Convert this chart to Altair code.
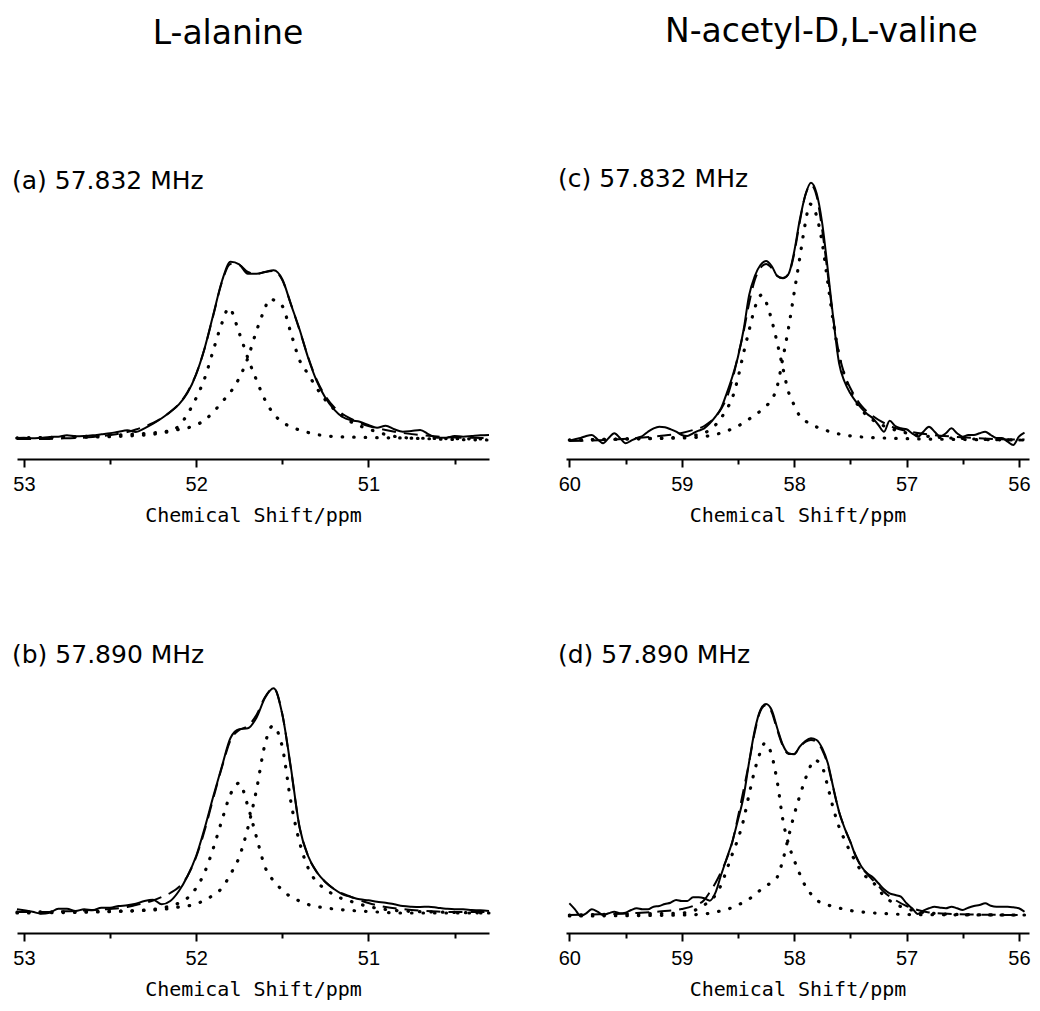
import altair as alt
import pandas as pd

# ---------------- Panel (a): L-alanine, 57.832 MHz ----------------
A_EXP_PPM = [53.04, 53.00, 52.95, 52.90, 52.85, 52.80, 52.75, 52.70, 52.65, 52.60, 52.55,
             52.50, 52.45, 52.40, 52.35, 52.30, 52.25, 52.20, 52.15, 52.10, 52.05,
             52.00, 51.95, 51.90, 51.85, 51.80, 51.75, 51.70, 51.65, 51.60, 51.55,
             51.50, 51.45, 51.40, 51.35, 51.30, 51.25, 51.20, 51.15, 51.10, 51.05,
             51.00, 50.95, 50.90, 50.85, 50.80, 50.75, 50.70, 50.65, 50.60, 50.55,
             50.50, 50.45, 50.40, 50.35, 50.30]
A_EXP = [0.0, 0.3, -0.3, 0.3, 1.0, 1.3, 2.7, 1.7, 2.0, 2.7, 3.7,
         4.7, 6.3, 7.7, 6.0, 9.7, 14.3, 19.7, 26.3, 33.7, 45.3,
         63.7, 90.3, 123.7, 157.0, 176.3, 173.7, 164.3, 164.3, 166.0, 167.7,
         158.7, 133.7, 108.7, 80.3, 57.0, 40.3, 28.7, 21.0, 17.7, 16.3,
         13.0, 10.3, 12.3, 8.7, 6.3, 7.0, 8.0, 3.7, 0.3, 0.3,
         2.0, 1.3, 2.0, 2.7, 3.0]
A_FIT_PPM = [53.04, 53.0, 52.9, 52.8, 52.7, 52.6, 52.5, 52.4, 52.35, 52.3, 52.25, 52.2, 52.15,
             52.1, 52.05, 52.0, 51.95, 51.9, 51.85, 51.8, 51.75, 51.7, 51.65, 51.6, 51.55,
             51.5, 51.45, 51.4, 51.35, 51.3, 51.25, 51.2, 51.15, 51.1, 51.05, 51.0, 50.9,
             50.8, 50.7, 50.6, 50.5, 50.3]
A_FIT = [-1, -1, -1, -0.5, 0, 1, 3, 6, 8.5, 11.5, 15, 20, 26,
         34, 46, 64, 90, 123, 156, 174, 173, 166, 164, 166, 167,
         158, 134, 108, 81, 58, 42, 31, 24, 19, 15, 12, 8,
         5, 3, 1.5, 0.5, 0]
A_C1_PPM = [53.04, 52.8, 52.6, 52.4, 52.3, 52.2, 52.15, 52.1, 52.05, 52.0, 51.95, 51.9, 51.85,
            51.81, 51.75, 51.7, 51.65, 51.6, 51.55, 51.5, 51.45, 51.4, 51.35, 51.3, 51.2,
            51.0, 50.8, 50.3]
A_C1 = [0, 0.5, 1, 2, 3, 5, 7, 12, 24, 40, 60, 88, 115,
        130, 105, 80, 58, 38, 24, 16, 11, 8, 5.5, 3.5, 1.5,
        0.5, 0, -1]
A_C2_PPM = [53.04, 52.6, 52.4, 52.2, 52.1, 52.0, 51.95, 51.9, 51.85, 51.8, 51.75, 51.7, 51.65,
            51.6, 51.576, 51.55, 51.5, 51.45, 51.4, 51.35, 51.3, 51.25, 51.2, 51.1, 51.0,
            50.9, 50.8, 50.6, 50.3]
A_C2 = [0, 2, 3.5, 6, 8.5, 13, 18, 26, 36, 46, 60, 80, 107,
        130, 139, 138, 132, 105, 78, 64, 50, 38, 29, 16, 9,
        3.5, 0.5, -1, -2]

# ---------------- Panel (b): L-alanine, 57.890 MHz ----------------
B_EXP_PPM = A_EXP_PPM
B_EXP = [2.7, 1.7, 0.3, -1.7, -0.7, 3.3, 3.3, 1.0, 2.7, 1.7, 4.3,
         4.3, 6.0, 6.7, 8.3, 11.0, 12.3, 7.7, 11.0, 21.0, 36.0,
         56.0, 84.3, 116.0, 146.0, 174.3, 182.7, 183.7, 194.3, 214.3, 223.7,
         197.7, 144.3, 85.0, 56.0, 40.0, 30.0, 23.0, 17.7, 15.0, 12.7,
         11.7, 10.3, 9.3, 7.7, 6.0, 5.3, 5.0, 5.3, 4.3, 3.3,
         2.7, 2.7, 2.0, 1.7, 1.0]
B_FIT_PPM = [53.04, 53.0, 52.9, 52.8, 52.7, 52.6, 52.5, 52.4, 52.35, 52.3, 52.25, 52.2, 52.15,
             52.1, 52.05, 52.0, 51.95, 51.9, 51.85, 51.8, 51.75, 51.7, 51.65, 51.6, 51.55,
             51.5, 51.45, 51.4, 51.35, 51.3, 51.25, 51.2, 51.1, 51.0, 50.9, 50.8, 50.7,
             50.6, 50.5, 50.3]
B_FIT = [0, 0, 0, 0.5, 1, 2, 3, 5, 7, 9, 11.5, 15, 19,
         25, 36, 55, 82, 114, 145, 172, 182, 186, 197, 215, 224,
         198, 143, 85, 56, 40, 30, 23, 15, 9, 5, 3, 1.5,
         0.5, 0, 0]
B_C1_PPM = [53.04, 52.6, 52.4, 52.3, 52.2, 52.1, 52.05, 52.0, 51.95, 51.9, 51.85, 51.8, 51.75,
            51.7, 51.65, 51.6, 51.55, 51.5, 51.45, 51.4, 51.35, 51.3, 51.25, 51.2, 51.1,
            51.0, 50.8, 50.3]
B_C1 = [0, 0.5, 1, 2, 4, 9, 14, 24, 40, 64, 92, 118, 129,
        106, 75, 45, 31, 22, 15, 11, 7.5, 5.5, 4, 3, 1.5,
        0.5, -1, -1]
B_C2_PPM = [53.04, 52.6, 52.4, 52.2, 52.1, 52.0, 51.95, 51.9, 51.85, 51.8, 51.75, 51.7, 51.65,
            51.6, 51.556, 51.5, 51.45, 51.4, 51.35, 51.3, 51.25, 51.2, 51.1, 51.0, 50.9,
            50.8, 50.6, 50.3]
B_C2 = [-1, 0, 1, 2.5, 5, 8, 12, 17, 24, 38, 55, 84, 122,
        168, 186, 165, 110, 70, 44, 30, 23, 17, 10.5, 5.5, 2.5,
        1, 0, -1]

# ---------------- Panel (c): N-acetyl-D,L-valine, 57.832 MHz ----------------
C_EXP_PPM = [60.00, 59.95, 59.90, 59.85, 59.80, 59.75, 59.70, 59.65, 59.60, 59.55,
             59.50, 59.45, 59.40, 59.35, 59.30, 59.25, 59.20, 59.15, 59.10, 59.05,
             59.00, 58.95, 58.90, 58.85, 58.80, 58.75, 58.70, 58.65, 58.60, 58.55,
             58.50, 58.45, 58.40, 58.35, 58.30, 58.25, 58.20, 58.15, 58.10, 58.05,
             58.00, 57.95, 57.90, 57.85, 57.80, 57.75, 57.70, 57.65, 57.60, 57.55,
             57.50, 57.45, 57.40, 57.35, 57.30, 57.25, 57.20, 57.15, 57.10, 57.05,
             57.00, 56.95, 56.90, 56.85, 56.80, 56.75, 56.70, 56.65, 56.60, 56.55,
             56.50, 56.45, 56.40, 56.35, 56.30, 56.25, 56.20, 56.15, 56.10, 56.05,
             56.00, 55.95]
C_EXP = [-2.7, -1.3, 0.0, 2.0, 3.0, -1.3, -5.3, 0.0, 4.7, 0.0,
         -5.3, -2.7, 0.0, 2.0, 6.3, 9.7, 11.3, 10.7, 8.7, 6.3,
         3.0, 2.0, 4.7, 7.3, 9.7, 14.7, 21.3, 29.7, 44.7, 61.3,
         81.0, 108.0, 143.0, 162.0, 173.0, 177.0, 172.0, 162.0, 159.7, 164.0,
         186.0, 218.0, 243.0, 255.3, 244.7, 214.7, 168.0, 118.0, 74.7, 56.0,
         44.7, 36.3, 29.7, 24.0, 19.7, 13.0, 6.3, 17.3, 12.0, 9.7,
         8.7, 4.7, 1.3, 6.3, 11.3, 6.3, 1.3, 4.7, 9.7, 4.7,
         1.3, 3.0, 3.0, 4.7, 6.3, 3.0, 0.0, 0.0, -3.7, -7.0,
         1.3, 5.3]
C_FIT_PPM = [60.0, 59.8, 59.6, 59.4, 59.2, 59.0, 58.9, 58.8, 58.75, 58.7, 58.65, 58.6, 58.55,
             58.5, 58.45, 58.4, 58.35, 58.3, 58.25, 58.2, 58.15, 58.1, 58.05, 58.0, 57.95,
             57.9, 57.85, 57.8, 57.75, 57.7, 57.65, 57.6, 57.55, 57.5, 57.45, 57.4, 57.3,
             57.2, 57.1, 57.0, 56.9, 56.8, 56.6, 56.4, 56.0, 55.95]
C_FIT = [-3, -2.5, -1.5, 0, 2, 5, 8, 12, 16, 21, 29, 40, 58,
         82, 106, 135, 158, 170, 174, 170, 162, 160, 164, 184, 216,
         243, 253, 242, 208, 163, 118, 84, 63, 50, 40, 32, 22,
         15, 10, 7, 5, 3.5, 1.5, 0, -1.5, -1.5]
C_C1_PPM = [60.0, 59.5, 59.2, 59.0, 58.9, 58.8, 58.7, 58.65, 58.6, 58.55, 58.5, 58.45, 58.4,
            58.35, 58.29, 58.25, 58.2, 58.15, 58.1, 58.05, 58.0, 57.95, 57.9, 57.85, 57.8,
            57.7, 57.6, 57.4, 57.2, 56.5, 55.95]
C_C1 = [-2, -1, 0, 1, 2.5, 5, 13, 20, 29, 40, 60, 85, 108,
        130, 143, 136, 118, 95, 70, 46, 33, 22, 17, 14, 11,
        7, 4, 1, 0, -1.5, -2]
C_C2_PPM = [60.0, 59.5, 59.0, 58.8, 58.7, 58.6, 58.5, 58.4, 58.3, 58.25, 58.2, 58.15, 58.1,
            58.05, 58.0, 57.95, 57.9, 57.86, 57.8, 57.75, 57.7, 57.65, 57.6, 57.55, 57.5,
            57.45, 57.4, 57.3, 57.2, 57.1, 57.0, 56.8, 56.5, 56.0, 55.95]
C_C2 = [-2, -1, 0, 1.5, 3.5, 7, 12, 19, 27, 32, 38, 52, 80,
        110, 145, 180, 215, 234, 222, 195, 155, 115, 82, 62, 47,
        36, 28, 18, 12, 8, 5, 1.5, -0.5, -2, -2]

# ---------------- Panel (d): N-acetyl-D,L-valine, 57.890 MHz ----------------
D_EXP_PPM = C_EXP_PPM
D_EXP = [8.7, 2.7, -4.0, -1.3, 2.7, 0.3, -3.0, -1.3, 0.3, -1.3,
         -0.7, 2.0, 3.7, 2.7, 2.7, 5.3, 6.0, 8.0, 9.3, 12.0,
         11.0, 11.0, 14.7, 14.7, 13.7, 11.3, 19.3, 37.0, 53.7, 70.3,
         92.0, 115.3, 150.3, 182.0, 202.0, 208.0, 202.0, 183.7, 167.0, 158.7,
         157.7, 165.3, 171.0, 173.7, 172.0, 163.7, 148.7, 123.7, 100.3, 83.7,
         70.3, 55.3, 45.3, 38.7, 34.7, 28.7, 22.7, 18.7, 17.0, 15.3,
         8.7, 3.7, -2.0, 1.3, 3.7, 5.3, 4.3, 3.7, 5.3, 3.7,
         2.0, 4.3, 6.0, 7.0, 8.7, 6.3, 5.3, 5.3, 5.3, 4.7,
         3.7, 0.3]
D_FIT_PPM = [60.0, 59.8, 59.6, 59.4, 59.2, 59.0, 58.9, 58.8, 58.75, 58.7, 58.65, 58.6, 58.55,
             58.5, 58.45, 58.4, 58.35, 58.3, 58.25, 58.2, 58.15, 58.1, 58.05, 58.0, 57.95,
             57.9, 57.85, 57.8, 57.75, 57.7, 57.65, 57.6, 57.55, 57.5, 57.45, 57.4, 57.35,
             57.3, 57.25, 57.2, 57.1, 57.0, 56.9, 56.8, 56.6, 56.4, 56.0, 55.95]
D_FIT = [-3, -2.5, -2, -1, 0.5, 3, 6, 12, 20, 29, 40, 53, 70,
         95, 122, 150, 180, 201, 207, 200, 182, 166, 158, 158, 165,
         170, 172, 170, 162, 147, 123, 100, 84, 70, 56, 45, 38,
         32, 26, 20, 12, 6, 2, -0.5, -2, -2.5, -3, -3]
D_C1_PPM = [60.0, 59.5, 59.0, 58.9, 58.8, 58.75, 58.7, 58.65, 58.6, 58.55, 58.5, 58.45, 58.4,
            58.35, 58.3, 58.26, 58.2, 58.15, 58.1, 58.05, 58.0, 57.95, 57.9, 57.85, 57.8,
            57.7, 57.6, 57.5, 57.4, 57.2, 57.0, 56.0, 55.95]
D_C1 = [-3, -2, -1, 1, 7, 11, 17, 27, 42, 58, 73, 92, 118,
        142, 160, 169, 157, 130, 92, 68, 52, 38, 26, 18, 12,
        7, 4, 1.5, 0, -1.5, -2.5, -3, -3]
D_C2_PPM = [60.0, 59.0, 58.8, 58.7, 58.6, 58.5, 58.4, 58.3, 58.2, 58.15, 58.1, 58.05, 58.0,
            57.95, 57.9, 57.85, 57.82, 57.75, 57.7, 57.65, 57.6, 57.55, 57.5, 57.45, 57.4,
            57.3, 57.2, 57.1, 57.0, 56.9, 56.8, 56.5, 56.0, 55.95]
D_C2 = [-4, -3, -2, 0, 2.5, 7, 13, 22, 30, 35, 52, 75, 97,
        116, 133, 147, 152, 145, 125, 103, 85, 72, 60, 50, 40,
        30, 16, 8, 3.5, 0.5, -1, -2.5, -3, -3]

# ---------------- axes / labels ----------------
ALA_TICKS = [53, 52.5, 52, 51.5, 51, 50.5]
VAL_TICKS = [60, 59.5, 59, 58.5, 58, 57.5, 57, 56.5, 56]
ALA_RANGE = [50.30, 53.04]
VAL_RANGE = [55.91, 60.03]
Y_RANGE = [-21, 257]
X_TITLE = "Chemical Shift/ppm"
COL_TITLES = ["L-alanine", "N-acetyl-D,L-valine"]
PANEL_TITLES = ["(a) 57.832 MHz", "(b) 57.890 MHz", "(c) 57.832 MHz", "(d) 57.890 MHz"]

PANEL_H = 278


def frame(p, v):
    return pd.DataFrame({"ppm": p, "intensity": v})


def panel(title, exp_p, exp_v, fit_p, fit_v, c1_p, c1_v, c2_p, c2_v, rng, ticks, width, tdx):
    axis = alt.Axis(
        values=ticks,
        labelExpr="datum.value % 1 === 0 ? format(datum.value, 'd') : ''",
        tickSize={"condition": {"test": "datum.value % 1 === 0", "value": 8}, "value": 5},
        tickColor="black", tickWidth=2,
        domainColor="black", domainWidth=2,
        labelFont="Liberation Sans", labelFontSize=20, labelColor="black",
        labelPadding=7, labelFlush=False, labelOverlap=False, labelBound=False,
        title=X_TITLE, titleFont="DejaVu Sans Mono", titleFontSize=20,
        titleFontWeight="normal", titleColor="black", titlePadding=11,
        grid=False,
    )
    x = alt.X("ppm:Q", scale=alt.Scale(domain=rng, reverse=True, nice=False, zero=False), axis=axis)
    y = alt.Y("intensity:Q", scale=alt.Scale(domain=Y_RANGE, nice=False, zero=False), axis=None)

    dotted = dict(color="black", strokeWidth=3.2, strokeDash=[0.5, 11], strokeCap="round",
                  interpolate="monotone")
    dashed = dict(color="black", strokeWidth=2, strokeDash=[14, 8], interpolate="monotone")
    solid = dict(color="black", strokeWidth=2, interpolate="monotone")

    l1 = alt.Chart(frame(c1_p, c1_v)).mark_line(**dotted).encode(x=x, y=y)
    l2 = alt.Chart(frame(c2_p, c2_v)).mark_line(**dotted).encode(x=x, y=y)
    l3 = alt.Chart(frame(fit_p, fit_v)).mark_line(**dashed).encode(x=x, y=y)
    l4 = alt.Chart(frame(exp_p, exp_v)).mark_line(**solid).encode(x=x, y=y)

    return alt.layer(l1, l2, l3, l4).properties(
        width=width, height=PANEL_H,
        title=alt.TitleParams(title, anchor="start", frame="group", font="DejaVu Sans",
                              fontSize=25, fontWeight="normal", color="black",
                              offset=-13, dx=tdx),
    )


pa = panel(PANEL_TITLES[0], A_EXP_PPM, A_EXP, A_FIT_PPM, A_FIT, A_C1_PPM, A_C1, A_C2_PPM, A_C2,
           ALA_RANGE, ALA_TICKS, 472, -5)
pb = panel(PANEL_TITLES[1], B_EXP_PPM, B_EXP, B_FIT_PPM, B_FIT, B_C1_PPM, B_C1, B_C2_PPM, B_C2,
           ALA_RANGE, ALA_TICKS, 472, -5)
pc = panel(PANEL_TITLES[2], C_EXP_PPM, C_EXP, C_FIT_PPM, C_FIT, C_C1_PPM, C_C1, C_C2_PPM, C_C2,
           VAL_RANGE, VAL_TICKS, 463, -8)
pd_ = panel(PANEL_TITLES[3], D_EXP_PPM, D_EXP, D_FIT_PPM, D_FIT, D_C1_PPM, D_C1, D_C2_PPM, D_C2,
            VAL_RANGE, VAL_TICKS, 463, -8)

left = alt.vconcat(pa, pb, spacing=196, bounds="flush",
                   title=alt.TitleParams(COL_TITLES[0], anchor="middle", font="DejaVu Sans",
                                         fontSize=33, fontWeight="normal", color="black",
                                         offset=118, dx=-25))
right = alt.vconcat(pc, pd_, spacing=196, bounds="flush",
                    title=alt.TitleParams(COL_TITLES[1], anchor="middle", font="DejaVu Sans",
                                          fontSize=33, fontWeight="normal", color="black",
                                          offset=118, dx=27))

chart = alt.hconcat(left, right, spacing=62).properties(
    padding={"left": 10, "top": 15, "right": 5, "bottom": 5},
    background="white",
).configure_view(stroke=None)

chart.save("out.html", embed_options={"renderer": "svg", "actions": False})
